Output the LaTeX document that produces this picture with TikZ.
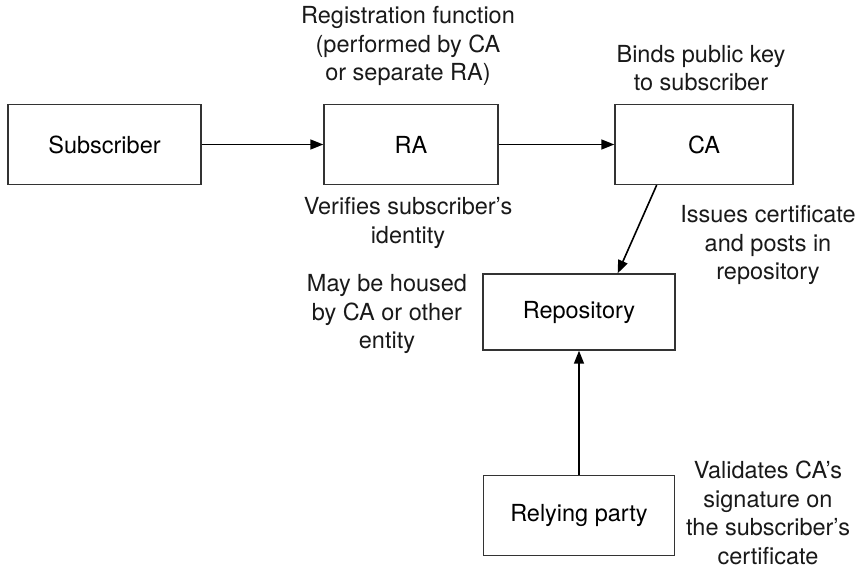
\documentclass[tikz,border=0pt]{standalone}
\usepackage{fontspec}
\setmainfont{TeX Gyre Heros}
\usetikzlibrary{arrows.meta,calc}
\begin{document}
\begin{tikzpicture}[x=1pt,y=-1pt,
  every node/.style={font=\fontsize{23.5}{28.5}\selectfont, inner sep=0pt},
  entity/.style={draw=black!80, line width=1.4pt, minimum width=#1, minimum height=80pt},
  note/.style={align=center, text=black!90},
  flow/.style={line width=1.6pt, -{Triangle[length=13pt,width=10pt]}}]
\useasboundingbox (0,0) rectangle (863,569);

% main entities
\node[entity=193pt] (sub)  at (104.5,144.5) {Subscriber};
\node[entity=174pt] (ra)   at (411,144.5)   {RA};
\node[entity=178pt] (ca)   at (704,144.5)   {CA};
\node[entity=192pt, minimum height=76pt] (repo) at (579,312) {Repository};
\node[entity=191pt] (rp)   at (579,515.5)   {Relying party};

% annotations
\node[note] (regfn) at (408,46)  {Registration function\\(performed by CA\\or separate RA)};
\node[note] (binds) at (701,68)  {Binds public key\\to subscriber};
\node[note] (verif) at (408,223) {Verifies subscriber's\\identity};
\node[note] (issue) at (768,245) {Issues certificate\\and posts in\\repository};
\node[note] (house) at (387,314) {May be housed\\by CA or other\\entity};
\node[note] (valid) at (768,513) {Validates CA's\\signature on\\the subscriber's\\certificate};

% connectors
\draw[flow] (sub) -- (ra);
\draw[flow] (ra) -- (ca);
\draw[flow] ($(ca.south west)!0.236!(ca.south east)$) -- ($(repo.north west)!0.70!(repo.north east)$);
\draw[flow] (rp) -- (repo);
\end{tikzpicture}
\end{document}
